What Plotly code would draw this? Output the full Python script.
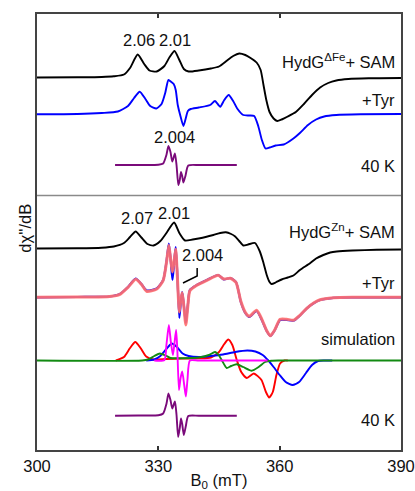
import plotly.graph_objects as go

# ---------------- data (field in mT, intensity in arbitrary units, positive up) ----------------
top_sam_B = [300, 310, 316, 319, 321.5, 323, 324.9, 326.5, 327.8, 329.6, 331.5, 332.8, 334.0, 335.2, 336.3,
             337.5, 340, 343, 345, 347, 348.5, 350, 351.5, 352.8, 354.3, 355.3, 356.0, 356.7, 357.5, 358.5,
             359.4, 360.5, 362, 364, 366, 368, 370, 372, 374, 377, 382, 390]
top_sam_I = [0, 0.2, 0.5, 1.2, 3, 9.5, 23, 13.5, 7, 6, 11.5, 20.5, 26.5, 17.5, 8.5,
             6, 7, 9, 11, 17, 21.5, 24, 22.5, 19.5, 15, 7.5, -7.5, -22.5, -34.5, -41,
             -43.5, -42, -39, -34.5, -26.5, -17.5, -10, -5.5, -3, -1.5, -0.8, -0.5]

top_tyr_B = [300, 310, 316, 320, 322.5, 324, 325.4, 326.8, 328, 329.5, 330.8, 331.7, 332.5, 333.2, 333.8,
             334.3, 334.8, 335.4, 336.2, 336.8, 337.3, 338, 340, 342.8, 344, 345.3, 346.3, 347.4, 348.5,
             349.5, 351, 352.5, 353.7, 354.7, 355.6, 356.5, 357.5, 359, 361, 363.4, 365, 367, 369, 371,
             374, 380, 390]
top_tyr_I = [0, 0.3, 1.3, 2.8, 8.3, 16.3, 22.6, 15.3, 8.3, 5.8, 10.3, 21.3, 34.3, 32.3, 30.3,
             24.3, 9.3, -0.7, -11.7, -3.7, 3.3, 5.3, 6.8, 9.3, 13.3, 7.6, 14.3, 19.3, 13.3,
             5.8, -0.7, -1.2, -1.7, -11.7, -25.7, -34.2, -33.2, -31.2, -30.2, -24.2, -18.7, -10.7, -5.2, -2.2,
             -0.7, 0, 0.3]

top_40k_B = [319.3, 325, 330, 331.2, 332.0, 332.5, 333.0, 333.45, 334.1, 334.5, 334.95, 335.3, 335.6, 335.9,
             336.2, 336.7, 337.4, 340, 345, 349.4]
top_40k_I = [0, 0, 0.2, 1.5, 10, 19, 13, 3.5, 11.5, 0, -20, -15, -7, -11,
             -17.5, -11, -0.5, 0, 0, 0]

bot_sam_B = [300, 310, 316, 319, 321.5, 323, 324.4, 325.8, 327.3, 328.8, 330.5, 332, 333.9, 335.2, 336.6,
             338.5, 340.3, 343.6, 345.3, 346.7, 348, 349, 350, 351, 352.2, 353.9, 355.1, 356, 356.8, 357.5,
             358, 359, 360.5, 362, 363.4, 365, 367.5, 369, 370.8, 372.5, 374.1, 378, 384, 390]
bot_sam_I = [0, 0.2, 0.8, 2, 5.5, 11.5, 17, 11, 4.5, 3, 7.5, 15.5, 26, 15.5, 8,
             9, 10.2, 13.5, 15.5, 16.2, 14.5, 12, 7.5, 3, 4, 5.5, -3, -14.5, -26.5, -33.5,
             -35.5, -34, -31, -29, -27, -21.5, -14.8, -10, -6.5, -4, -3, -2, -1.3, -1]

bot_tyr_B = [300, 310, 318, 320.5, 322.5, 324.4, 325.8, 327.1, 329.6, 331.2, 332.0, 332.6, 333.1, 333.5,
             333.9, 334.3, 334.7, 335.2, 335.6, 335.9, 336.3, 336.8, 337.3, 337.8, 339.5, 342, 344.8,
             346.2, 347.8, 349.2, 350.4, 351.5, 352.5, 354.3, 355.6, 356.8, 357.7, 358.8, 360.1, 361.7,
             363.5, 365, 366.7, 368.5, 370, 373.3, 378, 390]
bot_tyr_I = [0, 0.3, 0.8, 3.3, 10.3, 18.8, 13.3, 6.8, 8.8, 17.3, 35.3, 53.8, 35.3, 17.3,
             35.3, 50.3, 22.3, -20.7, -2.7, 5.3, -7.7, -25.7, -7.7, 7.3, 12.3, 17.3, 22.3,
             17.8, 19.3, 15.3, -4.7, -15.7, -19.7, -13.7, -22.7, -33.7, -38.7, -32.7, -22.7, -22.7,
             -23.2, -18.2, -11, -5.7, -2.7, -0.5, 0, 0]
bot_tyr_sim_I = [0, 0.3, 0.8, 3.0, 10.0, 18.0, 13.0, 6.0, 8.3, 17.0, 34.5, 52.0, 36.0, 25.3,
                 36.0, 48.0, 21.0, -14.7, -1.5, 4.5, -8.5, -27.7, -8.5, 6.5, 12.0, 17.0, 22.0,
                 18.3, 19.0, 15.0, -4.0, -15.0, -19.0, -13.0, -22.0, -33.5, -38.5, -32.5, -22.0, -22.0,
                 -22.8, -18.0, -11, -5.5, -2.5, -0.5, 0, 0]

sim_red_B = [319.5, 321.5, 323, 324.3, 325.6, 327, 328.8, 332, 336, 340, 343, 345, 346.3, 347.3, 348.3,
             349.4, 350.5, 351.9, 353.6, 355.5, 356.6, 357.4, 358.3, 359.2, 360.1, 361.2, 362]
sim_red_I = [0, 3.5, 12.5, 18.5, 12.5, 4, 1, 1.5, 2, 2.2, 3, 8.5, 16.5, 21, 15.5,
             0.5, -11.5, -17.5, -13, -19.5, -31.5, -37, -31.5, -14.5, -3, 0, 0]

sim_blue_B = [327, 329, 330.5, 332, 333.3, 334.6, 336, 337.5, 340, 343, 346, 349, 352, 354, 355.8, 357.2,
              358.5, 360, 361.5, 363.2, 364.8, 366.5, 368, 369.5, 371, 373]
sim_blue_I = [0, 1, 4.5, 11.5, 17, 13.5, 7, 4.5, 3.5, 4.5, 6, 8.5, 10, 9, 5.5, 0,
              -6.5, -14.5, -21.5, -24.5, -21.5, -12.5, -4.5, -0.5, 0, 0]

sim_green_B = [300, 326, 327.5, 329, 330.4, 331.8, 333, 336, 340, 342.5, 344, 345, 345.8, 346.9, 348,
               349.4, 351, 353.1, 354.8, 356.4, 358, 360, 390]
sim_green_I = [0, 0, 1, 4.5, 7, 5, 2.5, 2.3, 3, 5.5, 8.5, 5, -0.5, -7.5, -5.5,
               -3.8, -6.5, -10.2, -6.5, -1.5, -0.2, 0, 0]

sim_mag_B = [329, 331.5, 332.0, 332.6, 333.1, 333.6, 334.0, 334.4, 334.7, 335.1, 335.5, 335.9, 336.4,
             336.8, 337.2, 337.8, 340, 357]
sim_mag_I = [0, 0.5, 15.5, 35.5, 18.5, 5.5, 17.5, 30.5, 10.5, -29.5, -17.5, -11, -24.5,
             -36, -19.5, 0, 0, 0]

bot_40k_B = [319.3, 325, 330, 331.2, 332.0, 332.5, 333.0, 333.45, 334.1, 334.5, 334.9, 335.3, 335.6,
             335.9, 336.3, 336.8, 337.4, 340, 349.4]
bot_40k_I = [0, 0.2, 0.4, 2.2, 11.7, 22.2, 15.7, 7.2, 14.2, 0.7, -21.3, -12.3, -2.8,
             -8.3, -19.3, -10.3, -0.3, 0, 0]

x_ticks = [300, 330, 360, 390]

# vertical stacking offsets of each spectrum
offsets = {"top_sam": 372.5, "top_tyr": 335.7, "top_40k": 285.0, "bot_sam": 201.5,
           "bot_tyr": 152.7, "sim": 89.5, "bot_40k": 34.3}

FONT = "Arial, Liberation Sans, Helvetica, sans-serif"
FS = 16.5

fig = go.Figure()


def add(B, I, off, color, width=1.9, opacity=1.0):
    fig.add_trace(go.Scatter(
        x=B, y=[v + off for v in I], mode="lines",
        line=dict(color=color, width=width, shape="spline", smoothing=0.6),
        opacity=opacity, hoverinfo="skip", showlegend=False))


add(top_sam_B, top_sam_I, offsets["top_sam"], "#000000")
add(top_tyr_B, top_tyr_I, offsets["top_tyr"], "#0000ff")
add(top_40k_B, top_40k_I, offsets["top_40k"], "#7a0a7a")
add(bot_sam_B, bot_sam_I, offsets["bot_sam"], "#000000")
add(bot_tyr_B, bot_tyr_I, offsets["bot_tyr"], "#0000ff", width=2.2)
add(bot_tyr_B, bot_tyr_sim_I, offsets["bot_tyr"], "#ff7070", width=3.0, opacity=0.92)
add(sim_red_B, sim_red_I, offsets["sim"], "#ff0000")
add(sim_blue_B, sim_blue_I, offsets["sim"], "#0000ff")
add(sim_green_B, sim_green_I, offsets["sim"], "#128a12")
add(sim_mag_B, sim_mag_I, offsets["sim"], "#ff00ff")
add(bot_40k_B, bot_40k_I, offsets["bot_40k"], "#7a0a7a")

# divider between panels
fig.add_shape(type="line", xref="paper", x0=0, x1=1, yref="y", y0=254.5, y1=254.5,
              line=dict(color="#8a8a8a", width=1.5))
# bracket for 2.004 marker
fig.add_trace(go.Scatter(x=[336.1, 339.6, 339.6], y=[167, 174, 182], mode="lines",
                         line=dict(color="#000000", width=1.5), hoverinfo="skip", showlegend=False))

ann = [
    ("2.06", 325.2, 410, "center"),
    ("2.01", 334.1, 410, "center"),
    ("HydG<sup>ΔFe</sup>+ SAM", 389.0, 389, "right"),
    ("+Tyr", 389.0, 350, "right"),
    ("2.004", 334.1, 313, "center"),
    ("40 K", 389.0, 284, "right"),
    ("2.07", 324.7, 232, "center"),
    ("2.01", 333.75, 237, "center"),
    ("HydG<sup>Zn</sup>+ SAM", 389.0, 219, "right"),
    ("2.004", 340.8, 195, "center"),
    ("+Tyr", 389.0, 167, "right"),
    ("simulation", 389.0, 111, "right"),
    ("40 K", 389.0, 30.5, "right"),
]
for t, x, y, xa in ann:
    fig.add_annotation(text=t, x=x, y=y, xref="x", yref="y", xanchor=xa, yanchor="middle",
                       showarrow=False, font=dict(family=FONT, size=FS, color="#111111"))

fig.add_annotation(text="dχ''/dB", textangle=-90, xref="paper", yref="paper",
                   x=-0.033, y=0.51, xanchor="center", yanchor="middle", showarrow=False,
                   font=dict(family=FONT, size=FS, color="#111111"))

fig.update_layout(
    width=415, height=491,
    margin=dict(l=37, r=14, t=14, b=41),
    paper_bgcolor="white", plot_bgcolor="white",
    font=dict(family=FONT, size=FS, color="#111111"),
    xaxis=dict(range=[300, 390], tickvals=x_ticks, ticktext=[str(v) for v in x_ticks],
               ticks="inside", ticklen=4, tickwidth=1.5, tickcolor="#333333",
               showline=True, linecolor="#444444", linewidth=1.8, mirror="allticks",
               showgrid=False, zeroline=False, automargin=False,
               ticklabeloverflow="allow",
               title=dict(text="B<sub>0</sub> (mT)", standoff=3, font=dict(size=FS)),
               tickfont=dict(size=FS)),
    yaxis=dict(range=[0, 436], showticklabels=False, ticks="", showgrid=False, zeroline=False,
               showline=True, linecolor="#444444", linewidth=1.8, mirror=True, automargin=False),
)

fig.write_html("out.html", config={"displayModeBar": False},
               post_script="document.body.style.margin='0px';document.body.style.overflow='hidden';")
